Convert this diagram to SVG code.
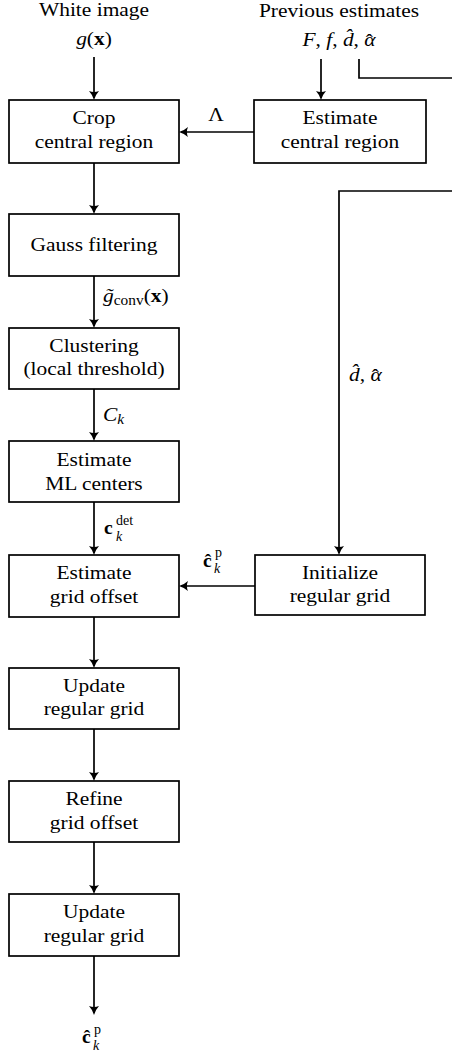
<svg xmlns="http://www.w3.org/2000/svg" width="452" height="1057" viewBox="0 0 452 1057">
  <style>
    .box { fill: #fff; stroke: #000; stroke-width: 1.7; }
    .wire { fill: none; stroke: #000; stroke-width: 1.7; }
    .arr { marker-end: url(#head); }
    text { font-family: 'Liberation Serif', 'DejaVu Serif', 'Times New Roman', serif; font-size: 19.5px; fill: #000; }
    .c { text-anchor: middle; }
    .i { font-style: italic; }
    .b { font-weight: bold; }
    .sm { font-size: 14px; }
  </style>
  <defs>
    <marker id="head" markerUnits="userSpaceOnUse" markerWidth="14" markerHeight="14" refX="0" refY="0" orient="auto" overflow="visible">
      <path d="M2,0 Q-3,-1.3 -7,-5 Q-4.8,0 -7,5 Q-3,1.3 2,0 Z" fill="#000"/>
    </marker>
  </defs>

  <!-- inputs -->
  <g id="input-white">
    <text class="c" transform="translate(94 16) scale(1.1 1)">White image</text>
    <text class="c" transform="translate(94 45) scale(1.1 1)"><tspan class="i">g</tspan>(<tspan class="b">x</tspan>)</text>
  </g>
  <g id="input-previous">
    <text class="c" transform="translate(339 17) scale(1.1 1)">Previous estimates</text>
    <text class="c" transform="translate(339 46) scale(1.1 1)"><tspan class="i">F</tspan>, <tspan class="i">f</tspan>, <tspan class="i">d̂</tspan>, <tspan class="i">α</tspan><tspan dx="-9" dy="1">ˆ</tspan></text>
  </g>

  <!-- processing blocks -->
  <g id="crop">
    <rect class="box" x="9" y="100" width="170" height="63"/>
    <text class="c" transform="translate(94 124) scale(1.1 1)">Crop</text>
    <text class="c" transform="translate(94 148) scale(1.1 1)">central region</text>
  </g>
  <g id="estimate-central">
    <rect class="box" x="254" y="100" width="172" height="63"/>
    <text class="c" transform="translate(340 124) scale(1.1 1)">Estimate</text>
    <text class="c" transform="translate(340 148) scale(1.1 1)">central region</text>
  </g>
  <g id="gauss">
    <rect class="box" x="9" y="214" width="170" height="62"/>
    <text class="c" transform="translate(94 251) scale(1.1 1)">Gauss filtering</text>
  </g>
  <g id="clustering">
    <rect class="box" x="9" y="328" width="170" height="61"/>
    <text class="c" transform="translate(94 352) scale(1.1 1)">Clustering</text>
    <text class="c" transform="translate(94 375) scale(1.1 1)">(local threshold)</text>
  </g>
  <g id="ml-centers">
    <rect class="box" x="9" y="441" width="170" height="61"/>
    <text class="c" transform="translate(94 466) scale(1.1 1)">Estimate</text>
    <text class="c" transform="translate(94 490) scale(1.1 1)">ML centers</text>
  </g>
  <g id="grid-offset">
    <rect class="box" x="9" y="555" width="170" height="62"/>
    <text class="c" transform="translate(94 579) scale(1.1 1)">Estimate</text>
    <text class="c" transform="translate(94 603) scale(1.1 1)">grid offset</text>
  </g>
  <g id="init-grid">
    <rect class="box" x="255" y="555" width="170" height="60"/>
    <text class="c" transform="translate(340 579) scale(1.1 1)">Initialize</text>
    <text class="c" transform="translate(340 602) scale(1.1 1)">regular grid</text>
  </g>
  <g id="update-1">
    <rect class="box" x="9" y="668" width="170" height="61"/>
    <text class="c" transform="translate(94 692) scale(1.1 1)">Update</text>
    <text class="c" transform="translate(94 715) scale(1.1 1)">regular grid</text>
  </g>
  <g id="refine">
    <rect class="box" x="9" y="781" width="170" height="61"/>
    <text class="c" transform="translate(94 805) scale(1.1 1)">Refine</text>
    <text class="c" transform="translate(94 829) scale(1.1 1)">grid offset</text>
  </g>
  <g id="update-2">
    <rect class="box" x="9" y="894" width="170" height="62"/>
    <text class="c" transform="translate(94 918) scale(1.1 1)">Update</text>
    <text class="c" transform="translate(94 942) scale(1.1 1)">regular grid</text>
  </g>

  <!-- connectors -->
  <g id="connectors">
    <line class="wire arr" x1="94" y1="57" x2="94" y2="98"/>
    <line class="wire arr" x1="321" y1="59" x2="321" y2="98"/>
    <polyline class="wire" points="359,59 359,78 452,78"/>
    <line class="wire arr" x1="254" y1="132" x2="181" y2="132"/>
    <line class="wire arr" x1="94" y1="163" x2="94" y2="212"/>
    <line class="wire arr" x1="94" y1="276" x2="94" y2="326"/>
    <line class="wire arr" x1="94" y1="389" x2="94" y2="439"/>
    <line class="wire arr" x1="94" y1="502" x2="94" y2="553"/>
    <polyline class="wire arr" points="452,191 339,191 339,553"/>
    <line class="wire arr" x1="255" y1="586" x2="181" y2="586"/>
    <line class="wire arr" x1="94" y1="617" x2="94" y2="666"/>
    <line class="wire arr" x1="94" y1="729" x2="94" y2="779"/>
    <line class="wire arr" x1="94" y1="842" x2="94" y2="892"/>
    <line class="wire arr" x1="94" y1="956" x2="94" y2="1013"/>
  </g>

  <!-- connector labels -->
  <g id="labels">
    <text class="c" transform="translate(216 121) scale(1.1 1)">Λ</text>
    <text transform="translate(103 302) scale(1.1 1)"><tspan class="i">g̃</tspan><tspan class="sm" dy="3">conv</tspan><tspan dy="-3">(</tspan><tspan class="b">x</tspan>)</text>
    <text transform="translate(103 421) scale(1.1 1)"><tspan class="i">C</tspan><tspan class="i sm" dy="3">k</tspan></text>
    <text class="b" x="104" y="534">c</text>
    <text class="sm" x="116" y="525">det</text>
    <text class="i sm" x="116" y="541">k</text>
    <text transform="translate(349 381) scale(1.1 1)"><tspan class="i">d̂</tspan>, <tspan class="i">α</tspan><tspan dx="-9" dy="1">ˆ</tspan></text>
    <text class="b" x="203" y="567">ĉ</text>
    <text class="sm" x="215" y="557">p</text>
    <text class="i sm" x="214" y="573">k</text>
    <text class="b" x="82" y="1043">ĉ</text>
    <text class="sm" x="94" y="1034">p</text>
    <text class="i sm" x="93" y="1050">k</text>
  </g>
</svg>
